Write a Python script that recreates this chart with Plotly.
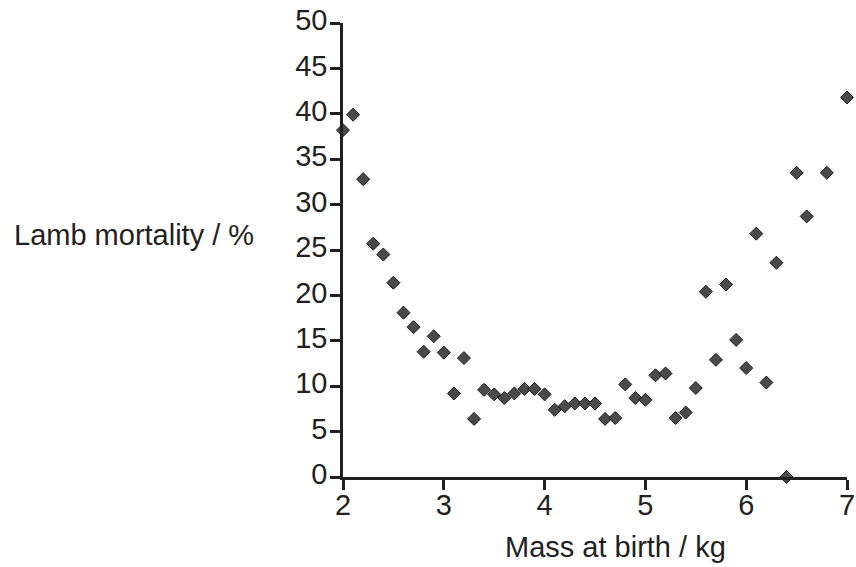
import plotly.graph_objects as go

mass_kg = [2.0, 2.1, 2.2, 2.3, 2.4, 2.5, 2.6, 2.7, 2.8, 2.9, 3.0, 3.1, 3.2, 3.3, 3.4,
           3.5, 3.6, 3.7, 3.8, 3.9, 4.0, 4.1, 4.2, 4.3, 4.4, 4.5, 4.6, 4.7, 4.8, 4.9,
           5.0, 5.1, 5.2, 5.3, 5.4, 5.5, 5.6, 5.7, 5.8, 5.9, 6.0, 6.1, 6.2, 6.3, 6.4,
           6.5, 6.6, 6.8, 7.0]
mortality_pct = [38.2, 39.9, 32.8, 25.7, 24.5, 21.4, 18.1, 16.5, 13.8, 15.5, 13.7, 9.2, 13.1, 6.4, 9.6,
                 9.1, 8.7, 9.2, 9.7, 9.7, 9.1, 7.4, 7.8, 8.1, 8.1, 8.1, 6.4, 6.5, 10.2, 8.7,
                 8.5, 11.2, 11.4, 6.5, 7.1, 9.8, 20.4, 12.9, 21.2, 15.1, 12.0, 26.8, 10.4, 23.6, 0.0,
                 33.5, 28.7, 33.5, 41.8]

x_ticks = [2, 3, 4, 5, 6, 7]
y_ticks = [0, 5, 10, 15, 20, 25, 30, 35, 40, 45, 50]
x_title = "Mass at birth / kg"
y_title = "Lamb mortality / %"

ink = "#231f20"
font_family = "Liberation Sans, Arial, sans-serif"
fs = 29

fig = go.Figure()
fig.add_trace(go.Scatter(
    x=mass_kg, y=mortality_pct, mode="markers",
    marker=dict(symbol="diamond", size=10, color="#4a4a4a",
                line=dict(color="#1a1a1a", width=1)),
    cliponaxis=False, showlegend=False,
))

axis_common = dict(
    showline=True, linecolor=ink, linewidth=2.5, mirror=False,
    ticks="outside", ticklen=10, tickwidth=2.5, tickcolor=ink,
    showgrid=False, zeroline=False, automargin=False,
    tickfont=dict(family=font_family, size=fs, color=ink),
)

fig.update_xaxes(range=[2, 7], tickvals=x_ticks, ticktext=[str(v) for v in x_ticks],
                 ticklabelstandoff=-10, **axis_common)
fig.update_yaxes(range=[0, 50], tickvals=y_ticks, ticktext=[str(v) for v in y_ticks],
                 ticklabelstandoff=-3, ticklabelshift=-3, **axis_common)

fig.add_annotation(
    text=y_title, xref="paper", yref="paper",
    x=(12.5 - 343.3) / 504, y=0.533, xanchor="left", yanchor="middle",
    showarrow=False, font=dict(family=font_family, size=fs, color=ink),
)
fig.add_annotation(
    text=x_title, xref="paper", yref="paper",
    x=0.541, y=-0.1549, xanchor="center", yanchor="middle",
    showarrow=False, font=dict(family=font_family, size=fs, color=ink),
)

fig.update_layout(
    width=856, height=567,
    margin=dict(l=343, r=9, t=23, b=90, autoexpand=False),
    plot_bgcolor="white", paper_bgcolor="white",
    font=dict(family=font_family, color=ink),
)

fig.write_html("out.html", config={"displayModeBar": False},
               post_script="document.body.style.margin='0';")
